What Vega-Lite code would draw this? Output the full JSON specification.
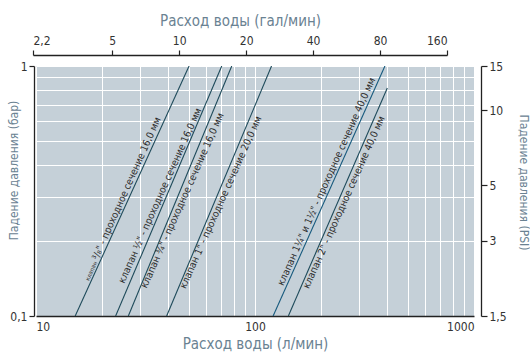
{
  "$schema": "https://vega.github.io/schema/vega-lite/v6.json",
  "width": 438,
  "height": 250,
  "autosize": {"type": "none"},
  "padding": {"left": 36, "top": 66, "right": 56, "bottom": 38},
  "config": {
    "view": {"fill": "#c5d0d8", "stroke": null},
    "font": "Liberation Sans Narrow, DejaVu Sans Condensed, sans-serif",
    "axis": {
      "domainColor": "#222222",
      "domainWidth": 1.3,
      "tickColor": "#222222",
      "tickWidth": 1.2,
      "labelColor": "#333333",
      "labelFontSize": 12,
      "titleColor": "#6a8292",
      "titleFontWeight": "normal",
      "gridColor": "#ffffff",
      "gridWidth": 1,
      "gridOpacity": 1
    }
  },
  "datasets": {
    "curves": [
      {"valve": "3/8", "q": 15.1, "p": 0.1},
      {"valve": "3/8", "q": 50, "p": 1},
      {"valve": "1/2", "q": 23.1, "p": 0.1},
      {"valve": "1/2", "q": 70.5, "p": 1},
      {"valve": "3/4", "q": 26.4, "p": 0.1},
      {"valve": "3/4", "q": 78.3, "p": 1},
      {"valve": "1", "q": 39.5, "p": 0.1},
      {"valve": "1", "q": 119, "p": 1},
      {"valve": "1 1/4", "q": 121, "p": 0.1},
      {"valve": "1 1/4", "q": 392, "p": 1},
      {"valve": "2", "q": 142, "p": 0.1},
      {"valve": "2", "q": 402, "p": 0.817}
    ],
    "labels": [
      {"text": "клапан", "part": "small", "side": "above", "q": 18.6, "p": 0.149},
      {"text": "³/₈\" - проходное сечение 16,0 мм", "part": "normal", "side": "above", "q": 27.5, "p": 0.316},
      {"text": "клапан ½\" - проходное сечение 16,0 мм", "part": "normal", "side": "above", "q": 39.1, "p": 0.296},
      {"text": "клапан ¾\" - проходное сечение 16,0 мм", "part": "normal", "side": "below", "q": 44.1, "p": 0.296},
      {"text": "клапан 1\" - проходное сечение 20,0 мм", "part": "normal", "side": "below", "q": 65.9, "p": 0.291},
      {"text": "клапан 1¼\" и 1½\" - проходное сечение 40,0 мм", "part": "normal", "side": "above", "q": 225, "p": 0.337},
      {"text": "клапан 2\" - проходное сечение 40,0 мм", "part": "normal", "side": "below", "q": 241, "p": 0.291}
    ],
    "units": [
      {"gal": 2.2, "psi": 1.5},
      {"gal": 160, "psi": 15}
    ]
  },
  "layer": [
    {
      "layer": [
        {
          "data": {"name": "curves"},
          "mark": {"type": "line", "clip": true},
          "encoding": {
            "x": {
              "field": "q", "type": "quantitative",
              "scale": {"type": "log", "domain": [10, 1000]},
              "axis": {
                "orient": "bottom",
                "title": "Расход воды (л/мин)",
                "titleFontSize": 15,
                "titlePadding": 4,
                "values": [10, 20, 30, 40, 50, 60, 70, 80, 90, 100, 200, 300, 400, 500, 600, 700, 800, 900, 1000],
                "labelExpr": "datum.value == 10 || datum.value == 100 || datum.value == 1000 ? format(datum.value, 'd') : ''",
                "ticks": false,
                "labelPadding": 5,
                "grid": true
              }
            },
            "y": {
              "field": "p", "type": "quantitative",
              "scale": {"type": "log", "domain": [0.1, 1]},
              "axis": {
                "orient": "left",
                "offset": 2,
                "title": "Падение давления (бар)",
                "titleFontSize": 12,
                "titleX": -21,
                "titleY": 104,
                "titleBaseline": "middle",
                "values": [0.1, 0.2, 0.3, 0.4, 0.5, 0.6, 0.7, 0.8, 0.9, 1],
                "labelExpr": "datum.value == 1 ? '1' : (datum.value == 0.1 ? '0,1' : '')",
                "tickSize": 5,
                "tickOpacity": {"condition": {"test": "datum.value == 1 || datum.value == 0.1", "value": 1}, "value": 0},
                "grid": true
              }
            },
            "detail": {"field": "valve"},
            "color": {
              "field": "valve", "type": "nominal", "legend": null,
              "scale": {"domain": ["3/8", "1/2", "3/4", "1", "1 1/4", "2"], "range": ["#1e4a5a", "#1e4a5a", "#1e4a5a", "#1e4a5a", "#175a7e", "#1e4a5a"]}
            },
            "strokeWidth": {
              "field": "valve", "type": "nominal", "legend": null,
              "scale": {"domain": ["3/8", "1/2", "3/4", "1", "1 1/4", "2"], "range": [1.1, 1.1, 1.1, 1.1, 1.6, 1.1]}
            }
          }
        },
        {
          "data": {"name": "labels"},
          "transform": [{"filter": "datum.side == 'above'"}],
          "mark": {"type": "text", "angle": 294, "align": "center", "baseline": "bottom", "dy": -1, "color": "#2a2a2a"},
          "encoding": {
            "x": {"field": "q", "type": "quantitative"},
            "y": {"field": "p", "type": "quantitative"},
            "text": {"field": "text"},
            "size": {
              "field": "part", "type": "nominal", "legend": null,
              "scale": {"domain": ["small", "normal"], "range": [6, 10]}
            }
          }
        },
        {
          "data": {"name": "labels"},
          "transform": [{"filter": "datum.side == 'below'"}],
          "mark": {"type": "text", "angle": 294, "align": "center", "baseline": "top", "dy": 1, "color": "#2a2a2a"},
          "encoding": {
            "x": {"field": "q", "type": "quantitative"},
            "y": {"field": "p", "type": "quantitative"},
            "text": {"field": "text"},
            "size": {
              "field": "part", "type": "nominal", "legend": null,
              "scale": {"domain": ["small", "normal"], "range": [6, 10]}
            }
          }
        }
      ]
    },
    {
      "data": {"name": "units"},
      "mark": {"type": "point", "opacity": 0},
      "encoding": {
        "x": {
          "field": "gal", "type": "quantitative",
          "scale": {"type": "log", "domain": [2.2, 160], "range": [-3, 411]},
          "axis": {
            "orient": "top",
            "offset": 11,
            "title": "Расход воды (гал/мин)",
            "titleFontSize": 15,
            "titlePadding": 6,
            "values": [2.2, 5, 10, 20, 40, 80, 160],
            "labelExpr": "replace(format(datum.value, '~g'), '.', ',')",
            "tickSize": 5,
            "labelPadding": 3,
            "grid": false
          }
        },
        "y": {
          "field": "psi", "type": "quantitative",
          "scale": {"type": "log", "domain": [1.5, 15]},
          "axis": {
            "orient": "right",
            "offset": 7,
            "title": "Падение давления (PSI)",
            "titleAngle": 90,
            "titleFontSize": 12,
            "titlePadding": 10,
            "titleY": 116,
            "values": [1.5, 3, 5, 10, 15],
            "labelExpr": "replace(format(datum.value, '~g'), '.', ',')",
            "tickSize": 6,
            "grid": false
          }
        }
      }
    }
  ],
  "resolve": {
    "scale": {"x": "independent", "y": "independent"},
    "axis": {"x": "independent", "y": "independent"}
  }
}
